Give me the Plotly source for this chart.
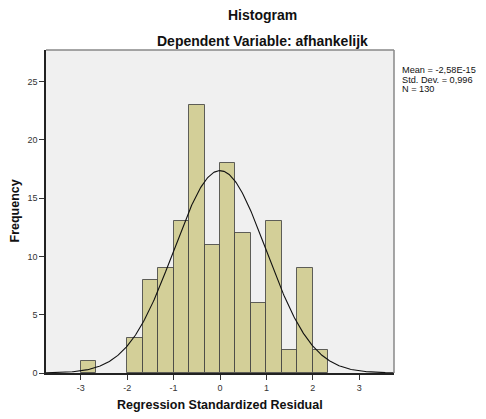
import numpy as np
import plotly.graph_objects as go

# Histogram bins (width 1/3) and counts
bin_left = [-3.0, -2.0, -5/3, -4/3, -1.0, -2/3, -1/3, 0.0, 1/3, 2/3, 1.0, 4/3, 5/3, 2.0]
counts = [1, 3, 8, 9, 13, 23, 11, 18, 12, 6, 13, 2, 9, 2]
bin_width = 1/3

mean_val = -2.58e-15
std_val = 0.996
n_val = 130
stats_lines = ["Mean = -2,58E-15", "Std. Dev. = 0,996", "N = 130"]

x_ticks = [-3, -2, -1, 0, 1, 2, 3]
y_ticks = [0, 5, 10, 15, 20, 25]

centers = [b + bin_width / 2 for b in bin_left]

xc = np.linspace(-3.75, 3.75, 400)
yc = n_val * bin_width * np.exp(-0.5 * ((xc - mean_val) / std_val) ** 2) / (std_val * np.sqrt(2 * np.pi))

fig = go.Figure()
fig.add_trace(go.Bar(
    x=centers, y=counts, width=bin_width,
    marker=dict(color="#D3CF98", line=dict(color="rgba(60,60,60,0.8)", width=1)),
    hoverinfo="x+y",
))
fig.add_trace(go.Scatter(
    x=xc, y=yc, mode="lines", line=dict(color="#111111", width=1.1), hoverinfo="skip",
))

font = "Liberation Sans, Arial, sans-serif"
title_x = (262 - 46) / 348

annotations = [
    dict(text="<b>Histogram</b>", xref="paper", yref="paper", x=title_x, y=1,
         yshift=35, showarrow=False, xanchor="center", yanchor="middle",
         font=dict(size=14, color="#111", family=font)),
    dict(text="<b>Dependent Variable: afhankelijk</b>", xref="paper", yref="paper", x=title_x, y=1,
         yshift=9, showarrow=False, xanchor="center", yanchor="middle",
         font=dict(size=14, color="#111", family=font)),
    dict(text="<b>Regression Standardized Residual</b>", xref="paper", yref="paper", x=0.5, y=0,
         yshift=-32, showarrow=False, xanchor="center", yanchor="middle",
         font=dict(size=12.5, color="#111", family=font)),
    dict(text="<b>Frequency</b>", xref="paper", yref="paper", x=0, y=0.5,
         xshift=-32, showarrow=False, xanchor="center", yanchor="middle", textangle=-90,
         font=dict(size=12.5, color="#111", family=font)),
]
for i, line in enumerate(stats_lines):
    annotations.append(dict(
        text=line, xref="paper", yref="paper", x=1, y=1, xshift=6, yshift=-20 - 9.5 * i,
        showarrow=False, xanchor="left", yanchor="middle", align="left",
        font=dict(size=9.2, color="#111", family=font)))

fig.update_layout(
    width=486, height=419,
    margin=dict(l=46, r=92, t=50, b=46),
    paper_bgcolor="white", plot_bgcolor="#F0F0F0",
    showlegend=False, bargap=0,
    font=dict(family=font, color="#333333", size=9),
    xaxis=dict(
        range=[-3.75, 3.75], tickvals=x_ticks, ticktext=[str(v) for v in x_ticks],
        ticks="outside", ticklen=5, tickcolor="#333", tickfont=dict(size=9, color="#333"),
        showgrid=False, zeroline=False, showline=True, linecolor="#222", linewidth=1.5,
        mirror=False,
    ),
    yaxis=dict(
        range=[0, 27.7], tickvals=y_ticks, ticktext=[str(v) for v in y_ticks],
        ticks="outside", ticklen=5, tickcolor="#333", tickfont=dict(size=9, color="#333"),
        showgrid=False, zeroline=False, showline=True, linecolor="#222", linewidth=1.5,
    ),
    shapes=[
        dict(type="line", xref="paper", yref="paper", x0=0, x1=1, y0=1, y1=1,
             line=dict(color="#888", width=1.5)),
        dict(type="line", xref="paper", yref="paper", x0=1, x1=1, y0=0, y1=1,
             line=dict(color="#888", width=1.5)),
    ],
    annotations=annotations,
)

fig.write_html("out.html")
